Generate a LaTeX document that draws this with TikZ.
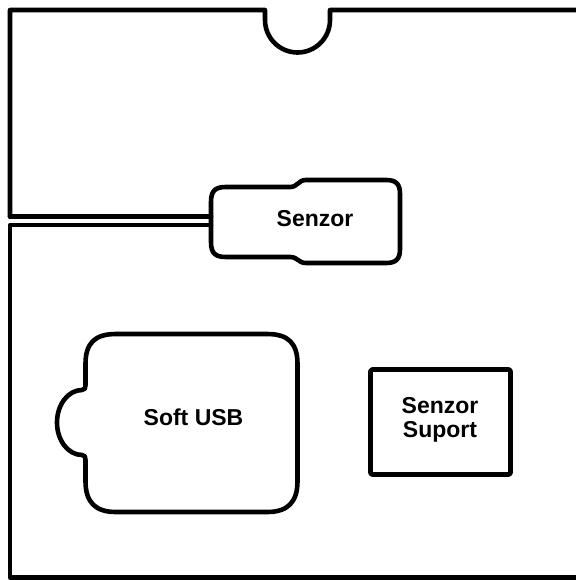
\documentclass[tikz,border=0pt]{standalone}
\usepackage{fontspec}
\setmainfont{Liberation Sans}
\begin{document}
\begin{tikzpicture}[x=1pt,y=1pt,
  outline/.style={line width=4.6pt,line join=round,line cap=round},
  label/.style={font=\fontsize{23}{24}\selectfont\bfseries,align=center,inner sep=0pt}]
\useasboundingbox (0,0) rectangle (575,-580);

% upper compartment: wall with the notch at the top
\draw[outline] (10,-216.5) -- (10,-10) -- (265,-10) -- (265,-20)
  arc[start angle=180,end angle=360,radius=32.5] -- (330,-10) -- (578,-10);
\draw[outline] (10,-216.5) -- (211,-216.5);

% lower compartment
\draw[outline] (211,-225) -- (10,-225) -- (10,-577.5) -- (578,-577.5);

% sensor body
\draw[outline] (226,-187) -- (290,-187)
  .. controls (298,-187) and (298,-180) .. (306,-180) -- (386,-180)
  .. controls (396,-180) and (400,-184) .. (400,-194) -- (400,-249)
  .. controls (400,-259) and (396,-263) .. (386,-263) -- (306,-263)
  .. controls (298,-263) and (298,-257) .. (290,-257) -- (226,-257)
  .. controls (215,-257) and (211,-253) .. (211,-242) -- (211,-202)
  .. controls (211,-191) and (215,-187) .. (226,-187) -- cycle;
\node[label] (senzor) at (315,-219) {Senzor};

% soft USB pouch with its side tab
\draw[outline] (116,-334) -- (267,-334)
  .. controls (288,-334) and (297.5,-343) .. (297.5,-364) -- (297.5,-481)
  .. controls (297.5,-502) and (288,-512) .. (267,-512) -- (116,-512)
  .. controls (95,-512) and (85.5,-502) .. (85.5,-481) -- (85.5,-460)
  .. controls (85.5,-457) and (85,-455) .. (82,-455)
  arc[start angle=270,end angle=90,x radius=25,y radius=32.5]
  .. controls (85,-390) and (85.5,-388) .. (85.5,-385) -- (85.5,-364)
  .. controls (85.5,-343) and (95,-334) .. (116,-334) -- cycle;
\node[label] (softusb) at (193.5,-417) {Soft USB};

% sensor support block
\draw[outline,rounded corners=1.5pt] (370.5,-369.5) rectangle (510.5,-474.5);
\node[label] (suport) at (440,-420) {Senzor\\Suport};
\end{tikzpicture}
\end{document}
